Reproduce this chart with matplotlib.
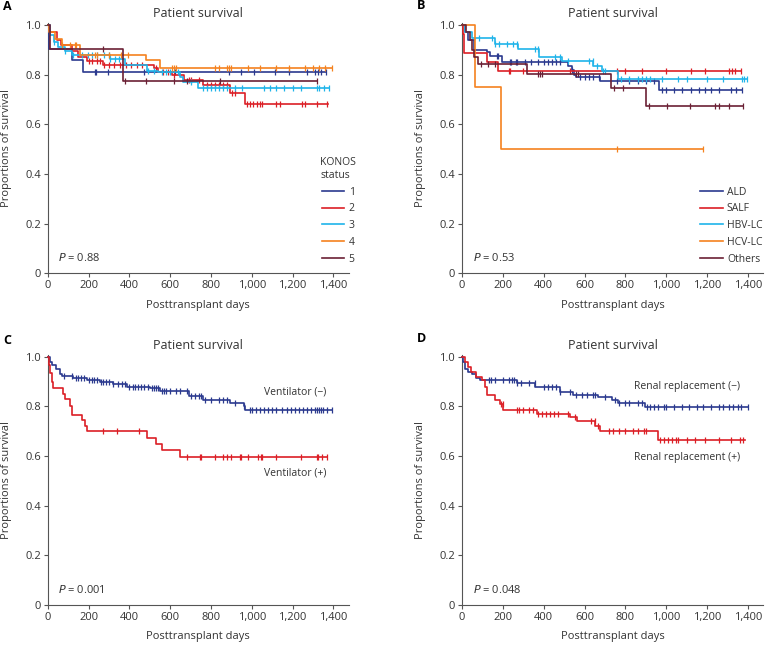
import matplotlib
matplotlib.use("Agg")
import matplotlib.pyplot as plt
from matplotlib.lines import Line2D
import numpy as np

plt.rcParams['font.family'] = ['Open Sans', 'DejaVu Sans']

NAVY = '#2b3a8f'
RED = '#dc1f26'
CYAN = '#1fb4ea'
ORANGE = '#f5821f'
MAROON = '#6b2035'

# ---- panel A: KONOS status ----
a1_t = [0, 6, 117, 171]
a1_s = [1.0, 0.905, 0.86, 0.81]
a1_end = 1365
a1_c = [230, 235, 295, 470, 625, 890, 945, 1010, 1115, 1180, 1270, 1310, 1325, 1340, 1365]

a2_t = [0, 10, 45, 65, 120, 150, 190, 270, 520, 540, 610, 670, 760, 895, 965]
a2_s = [1.0, 0.97, 0.94, 0.92, 0.895, 0.87, 0.855, 0.84, 0.825, 0.81, 0.8, 0.78, 0.76, 0.725, 0.68]
a2_end = 1375
a2_c = [200, 215, 240, 255, 275, 300, 325, 355, 385, 410, 435, 460, 530, 565, 590, 620,
        690, 700, 740, 780, 800, 820, 840, 860, 880, 905, 920, 975, 990, 1005, 1025, 1040,
        1050, 1120, 1140, 1245, 1260, 1320, 1370]

a3_t = [0, 10, 30, 50, 85, 117, 305, 380, 485, 540, 650, 665, 735]
a3_s = [1.0, 0.96, 0.93, 0.91, 0.895, 0.88, 0.864, 0.84, 0.815, 0.81, 0.79, 0.77, 0.745]
a3_end = 1380
a3_c = [30, 85, 125, 170, 195, 215, 240, 275, 300, 305, 330, 350, 490, 520, 560, 580, 600,
        640, 700, 760, 780, 800, 820, 840, 860, 880, 920, 950, 1060, 1090, 1120, 1160, 1200,
        1240, 1320, 1330, 1355, 1380]

a4_t = [0, 8, 35, 70, 160, 480, 550]
a4_s = [1.0, 0.97, 0.945, 0.92, 0.88, 0.86, 0.827]
a4_end = 1395
a4_c = [70, 110, 135, 140, 230, 240, 300, 360, 395, 610, 620, 630, 820, 840, 880, 890, 900,
        980, 1040, 1120, 1180, 1260, 1300, 1330, 1360, 1395]

a5_t = [0, 10, 370]
a5_s = [1.0, 0.905, 0.773]
a5_end = 1318
a5_c = [270, 380, 480, 620, 680, 845, 1318]

# ---- panel B: aetiology ----
b_ald_t = [0, 15, 30, 60, 120, 135, 195, 520, 540, 550, 560, 675, 965]
b_ald_s = [1.0, 0.97, 0.94, 0.9, 0.89, 0.875, 0.85, 0.835, 0.82, 0.8, 0.79, 0.775, 0.74]
b_ald_end = 1370
b_ald_c = [170, 175, 235, 240, 265, 270, 310, 340, 370, 400, 420, 440, 460, 480, 540, 580,
           600, 620, 640, 670, 760, 820, 860, 900, 940, 980, 1000, 1040, 1080, 1120, 1160,
           1190, 1220, 1260, 1320, 1340, 1370]

b_salf_t = [0, 4, 10, 124, 175]
b_salf_s = [1.0, 0.963, 0.889, 0.852, 0.815]
b_salf_end = 1365
b_salf_c = [230, 235, 300, 530, 760, 800, 880, 1000, 1120, 1190, 1310, 1325, 1335, 1365]

b_hbv_t = [0, 15, 47, 160, 275, 375, 488, 644, 685, 766]
b_hbv_s = [1.0, 0.97, 0.947, 0.923, 0.905, 0.873, 0.856, 0.833, 0.813, 0.784]
b_hbv_end = 1395
b_hbv_c = [85, 145, 160, 180, 220, 250, 270, 355, 370, 455, 480, 520, 620, 640, 660, 690,
           700, 780, 820, 860, 880, 900, 920, 980, 1060, 1100, 1200, 1280, 1370, 1380, 1395]

b_hcv_t = [0, 64, 190]
b_hcv_s = [1.0, 0.75, 0.5]
b_hcv_end = 1183
b_hcv_c = [758, 1183]

b_oth_t = [0, 20, 40, 50, 60, 80, 320, 730, 900]
b_oth_s = [1.0, 0.97, 0.94, 0.9, 0.87, 0.843, 0.803, 0.747, 0.673]
b_oth_end = 1375
b_oth_c = [95, 125, 160, 370, 380, 390, 560, 570, 745, 790, 915, 1005, 1115, 1240, 1260,
           1310, 1375]

# ---- panel C: ventilator ----
c_neg_t = [0, 10, 20, 40, 60, 69, 125, 190, 257, 320, 387, 500, 550, 690, 763, 894, 960, 967]
c_neg_s = [1.0, 0.98, 0.965, 0.95, 0.93, 0.923, 0.913, 0.907, 0.9, 0.89, 0.88, 0.873, 0.86,
           0.84, 0.827, 0.813, 0.803, 0.785]
c_neg_end = 1395
c_neg_c = [80, 120, 140, 150, 165, 180, 200, 215, 225, 240, 260, 270, 285, 300, 320, 345,
           365, 380, 400, 420, 430, 440, 455, 470, 490, 510, 520, 530, 540, 560, 570, 580,
           600, 630, 650, 680, 700, 720, 740, 750, 770, 800, 840, 860, 880, 920, 960, 990,
           1000, 1020, 1040, 1060, 1080, 1100, 1120, 1150, 1170, 1190, 1210, 1230, 1250,
           1270, 1290, 1310, 1320, 1330, 1340, 1350, 1370, 1395]

c_pos_t = [0, 5, 10, 20, 25, 73, 85, 110, 118, 167, 183, 191, 485, 531, 562, 649]
c_pos_s = [1.0, 0.967, 0.933, 0.9, 0.873, 0.85, 0.829, 0.8, 0.765, 0.745, 0.72, 0.7, 0.673,
           0.65, 0.625, 0.598]
c_pos_end = 1370
c_pos_c = [272, 340, 445, 680, 745, 750, 820, 860, 880, 900, 940, 945, 980, 1030, 1045,
           1050, 1120, 1240, 1320, 1325, 1345, 1370]

# ---- panel D: renal replacement ----
d_neg_t = [0, 5, 15, 30, 50, 70, 88, 268, 358, 480, 546, 668, 733, 766, 897]
d_neg_s = [1.0, 0.98, 0.95, 0.94, 0.93, 0.915, 0.907, 0.893, 0.876, 0.857, 0.847, 0.836,
           0.824, 0.813, 0.796]
d_neg_end = 1400
d_neg_c = [130, 140, 160, 200, 230, 245, 255, 270, 290, 330, 355, 400, 420, 440, 460, 480,
           530, 560, 590, 610, 640, 650, 700, 750, 770, 800, 820, 860, 880, 905, 920, 940,
           960, 990, 1000, 1040, 1080, 1110, 1150, 1180, 1220, 1260, 1280, 1310, 1330, 1350,
           1365, 1400]

d_pos_t = [0, 15, 30, 44, 67, 96, 113, 121, 162, 186, 203, 366, 529, 562, 652, 676, 962]
d_pos_s = [1.0, 0.98, 0.96, 0.94, 0.92, 0.907, 0.88, 0.847, 0.827, 0.81, 0.787, 0.771,
           0.757, 0.74, 0.72, 0.7, 0.664]
d_pos_end = 1384
d_pos_c = [190, 200, 270, 280, 300, 330, 350, 370, 390, 410, 430, 450, 470, 520, 555, 630,
           650, 665, 720, 740, 770, 800, 840, 860, 890, 900, 970, 990, 1010, 1030, 1050,
           1060, 1100, 1140, 1190, 1260, 1320, 1360, 1375]

TXT = '#333333'


def km(ax, t, s, end, cens, color):
    x = list(t) + [end]
    y = list(s) + [s[-1]]
    ax.step(x, y, where='post', color=color, lw=1.2, clip_on=False, zorder=3)
    idx = np.searchsorted(t, cens, side='right') - 1
    cy = np.array(s)[idx]
    ax.plot(cens, cy, ls='none', marker='|', ms=4.5, mew=0.9, color=color,
            clip_on=False, zorder=3)


def style(ax):
    ax.set_xlim(0, 1475)
    ax.set_ylim(0, 1.007)
    ax.set_xticks(range(0, 1401, 200))
    ax.set_xticklabels([f'{v:,}' for v in range(0, 1401, 200)])
    yt = [0, 0.2, 0.4, 0.6, 0.8, 1.0]
    ax.set_yticks(yt)
    ax.set_yticklabels(['0' if v == 0 else f'{v:.1f}' for v in yt])
    for side in ['top', 'right']:
        ax.spines[side].set_visible(False)
    for side in ['left', 'bottom']:
        ax.spines[side].set_color('#555555')
        ax.spines[side].set_linewidth(0.8)
    ax.tick_params(direction='out', length=3, width=0.8, color='#555555',
                   labelsize=8, labelcolor=TXT, pad=2)
    ax.set_title('Patient survival', fontsize=9, color=TXT, pad=4.5)
    ax.set_xlabel('Posttransplant days', fontsize=8, color=TXT)
    ax.set_ylabel('Proportions of survival', fontsize=8, color=TXT)
    ax.xaxis.set_label_coords(0.5, -0.105)
    ax.yaxis.set_label_coords(-0.12, 0.5)


def legend(ax, labels, x0, title=None):
    handles = [Line2D([], [], color=c, lw=1.2) for c in [NAVY, RED, CYAN, ORANGE, MAROON]]
    leg = ax.legend(handles, labels, title=title, loc='lower left',
                    bbox_to_anchor=(x0, 0.035), frameon=False, fontsize=7.5,
                    title_fontsize=7.5, handlelength=2.2, handletextpad=0.4,
                    labelspacing=0.55, borderpad=0, borderaxespad=0, alignment='center')
    for tx in leg.get_texts():
        tx.set_color(TXT)
    if title:
        leg.get_title().set_color(TXT)


fig = plt.figure(figsize=(7.65, 6.46), dpi=100)
axA = fig.add_axes([0.0624, 0.577, 0.3935, 0.387])
axB = fig.add_axes([0.604, 0.577, 0.3935, 0.387])
axC = fig.add_axes([0.0624, 0.0635, 0.3935, 0.387])
axD = fig.add_axes([0.604, 0.0635, 0.3935, 0.387])

# A
km(axA, a1_t, a1_s, a1_end, a1_c, NAVY)
km(axA, a2_t, a2_s, a2_end, a2_c, RED)
km(axA, a3_t, a3_s, a3_end, a3_c, CYAN)
km(axA, a4_t, a4_s, a4_end, a4_c, ORANGE)
km(axA, a5_t, a5_s, a5_end, a5_c, MAROON)
style(axA)
legend(axA, ['1', '2', '3', '4', '5'], 0.905, title='KONOS\nstatus')
axA.text(52, 0.062, r'$\it{P}$ = 0.88', fontsize=8, color=TXT, va='center')

# B
km(axB, b_ald_t, b_ald_s, b_ald_end, b_ald_c, NAVY)
km(axB, b_salf_t, b_salf_s, b_salf_end, b_salf_c, RED)
km(axB, b_hbv_t, b_hbv_s, b_hbv_end, b_hbv_c, CYAN)
km(axB, b_hcv_t, b_hcv_s, b_hcv_end, b_hcv_c, ORANGE)
km(axB, b_oth_t, b_oth_s, b_oth_end, b_oth_c, MAROON)
style(axB)
legend(axB, ['ALD', 'SALF', 'HBV-LC', 'HCV-LC', 'Others'], 0.79)
axB.text(52, 0.062, r'$\it{P}$ = 0.53', fontsize=8, color=TXT, va='center')

# C
km(axC, c_neg_t, c_neg_s, c_neg_end, c_neg_c, NAVY)
km(axC, c_pos_t, c_pos_s, c_pos_end, c_pos_c, RED)
style(axC)
axC.text(1365, 0.856, 'Ventilator (\u2212)', fontsize=7.5, color=TXT, ha='right', va='center')
axC.text(1365, 0.53, 'Ventilator (+)', fontsize=7.5, color=TXT, ha='right', va='center')
axC.text(52, 0.06, r'$\it{P}$ = 0.001', fontsize=8, color=TXT, va='center')

# D
km(axD, d_neg_t, d_neg_s, d_neg_end, d_neg_c, NAVY)
km(axD, d_pos_t, d_pos_s, d_pos_end, d_pos_c, RED)
style(axD)
axD.text(1363, 0.88, 'Renal replacement (\u2212)', fontsize=7.5, color=TXT, ha='right', va='center')
axD.text(1363, 0.593, 'Renal replacement (+)', fontsize=7.5, color=TXT, ha='right', va='center')
axD.text(52, 0.06, r'$\it{P}$ = 0.048', fontsize=8, color=TXT, va='center')

for lab, x, y in [('A', 3, 6.5), ('B', 417, 5.5), ('C', 3, 340), ('D', 417, 339)]:
    fig.text(x / 765, 1 - y / 646, lab, fontsize=9, fontweight='bold', va='center', ha='left')

fig.savefig('out.png', dpi=100)
